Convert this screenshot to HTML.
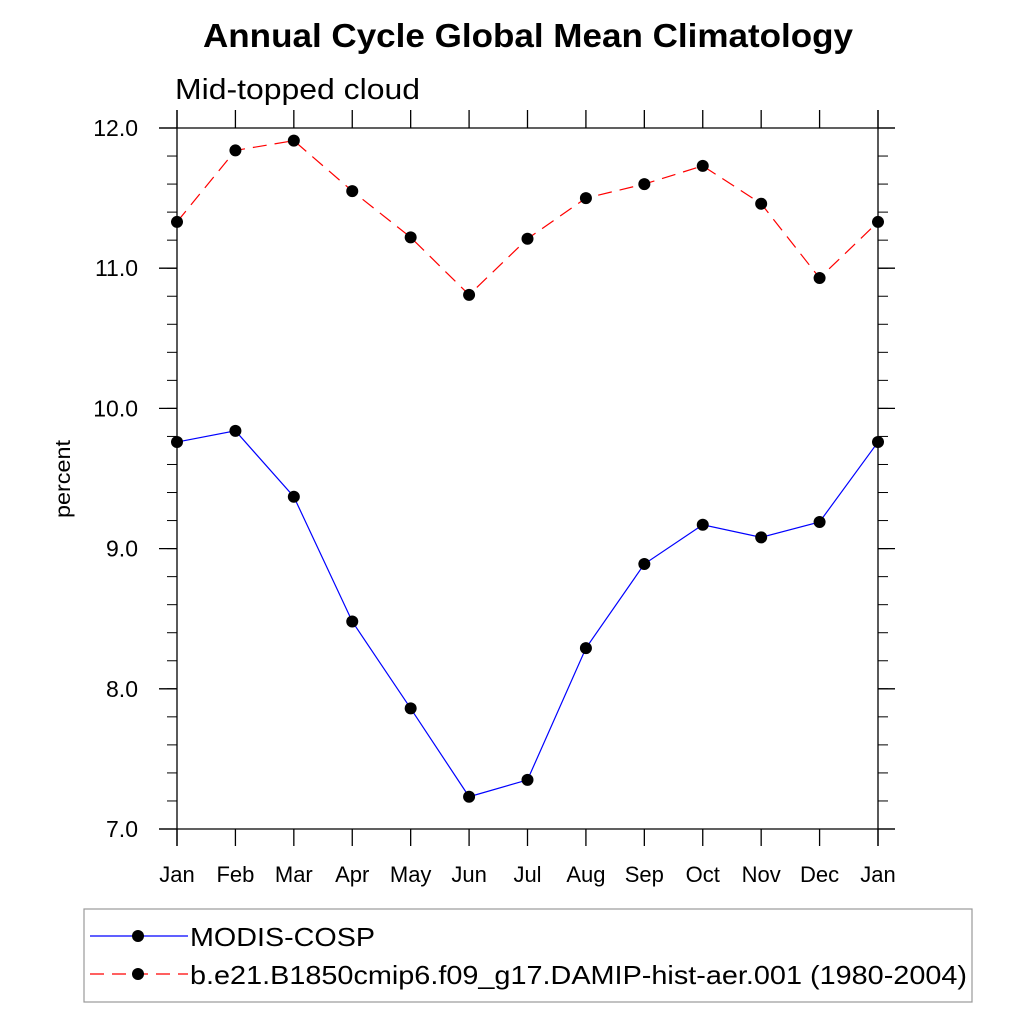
<!DOCTYPE html>
<html><head><meta charset="utf-8"><style>
body{margin:0;background:#fff}
svg{display:block;font-family:"Liberation Sans",Arial,sans-serif}
</style></head><body>
<svg id="chart" width="1024" height="1024" viewBox="0 0 1024 1024">
<rect width="1024" height="1024" fill="#fff"/>
<text x="203" y="47" font-size="33" font-weight="bold" textLength="650" lengthAdjust="spacingAndGlyphs">Annual Cycle Global Mean Climatology</text>
<text x="175" y="99" font-size="29" textLength="245" lengthAdjust="spacingAndGlyphs">Mid-topped cloud</text>
<text transform="translate(70,479) rotate(-90)" text-anchor="middle" font-size="21" textLength="78" lengthAdjust="spacingAndGlyphs">percent</text>
<g id="axes"></g>
<g id="series"></g>
<g>
<rect x="84" y="909" width="888" height="93" fill="none" stroke="#999" stroke-width="1.2"/>
<g>
<line x1="90" y1="936" x2="188" y2="936" stroke="#00f" stroke-width="1.2"/>
<circle cx="138" cy="936" r="6" fill="#000"/>
<text x="190" y="946" font-size="26" textLength="185" lengthAdjust="spacingAndGlyphs">MODIS-COSP</text></g>
<g>
<line x1="90" y1="974" x2="188" y2="974" stroke="#f00" stroke-width="1.2" stroke-dasharray="14,8"/>
<circle cx="138" cy="974" r="6" fill="#000"/>
<text x="190" y="984" font-size="26" textLength="777" lengthAdjust="spacingAndGlyphs">b.e21.B1850cmip6.f09_g17.DAMIP-hist-aer.001 (1980-2004)</text></g>
</g>
</svg>
<script>
const months=["Jan","Feb","Mar","Apr","May","Jun","Jul","Aug","Sep","Oct","Nov","Dec","Jan"];
const modis=[9.76,9.84,9.37,8.48,7.86,7.23,7.35,8.29,8.89,9.17,9.08,9.19,9.76];
const model=[11.33,11.84,11.91,11.55,11.22,10.81,11.21,11.50,11.60,11.73,11.46,10.93,11.33];
const yTicks=[7.0,8.0,9.0,10.0,11.0,12.0];
const yMin=7,yMax=12;
const X0=177,X1=878,Y0=829,Y1=128;
const NS="http://www.w3.org/2000/svg";
function xs(i){return X0+i*(X1-X0)/(months.length-1);}
function ys(v){return Y0-(v-yMin)*(Y0-Y1)/(yMax-yMin);}
function mk(tag,at,parent){const e=document.createElementNS(NS,tag);for(const k in at)e.setAttribute(k,at[k]);parent.appendChild(e);return e;}
const ax=document.getElementById('axes');
const L={stroke:"#000","stroke-width":1.3};
mk('line',Object.assign({x1:159,y1:Y1,x2:895,y2:Y1},L),ax);
mk('line',Object.assign({x1:159,y1:Y0,x2:895,y2:Y0},L),ax);
mk('line',Object.assign({x1:X0,y1:110,x2:X0,y2:846},L),ax);
mk('line',Object.assign({x1:X1,y1:110,x2:X1,y2:846},L),ax);
months.forEach((m,i)=>{const x=xs(i);
 mk('line',Object.assign({x1:x,y1:Y1,x2:x,y2:110},L),ax);
 mk('line',Object.assign({x1:x,y1:Y0,x2:x,y2:846},L),ax);
 const t=mk('text',{x:x,y:882,"text-anchor":"middle","font-size":22},ax);t.textContent=m;
 
 
});
yTicks.forEach(v=>{const y=ys(v);
 mk('line',Object.assign({x1:159,y1:y,x2:X0,y2:y},L),ax);
 mk('line',Object.assign({x1:X1,y1:y,x2:895,y2:y},L),ax);
 const t=mk('text',{x:138,y:y+8,"text-anchor":"end","font-size":23},ax);t.textContent=v.toFixed(1);
 
 
});
for(let v=yMin;v<yMax;v+=0.2){const y=ys(v);
 mk('line',{x1:167,y1:y,x2:X0,y2:y,stroke:"#000","stroke-width":1},ax);
 mk('line',{x1:X1,y1:y,x2:888,y2:y,stroke:"#000","stroke-width":1},ax);}
const sg=document.getElementById('series');
function draw(vals,color,dash,name){
 const g=mk('g',{},sg);
 
 
 const a={points:vals.map((v,i)=>xs(i)+","+ys(v)).join(" "),fill:"none",stroke:color,"stroke-width":1.2};
 if(dash)a["stroke-dasharray"]=dash;
 mk('polyline',a,g);
 vals.forEach((v,i)=>{const c=mk('circle',{cx:xs(i),cy:ys(v),r:6,fill:"#000"},g);
  
  });
}
draw(modis,"#00f",null,"series-modis-cosp");
draw(model,"#f00","14,8","series-model");
</script>
</body></html>
